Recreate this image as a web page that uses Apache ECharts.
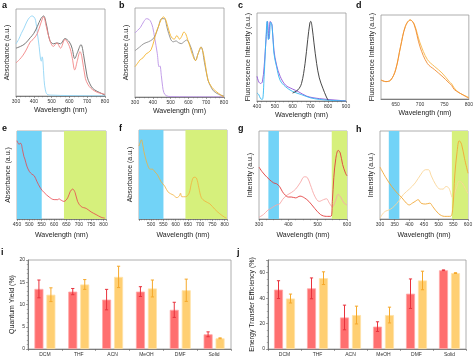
<!DOCTYPE html>
<html><head><meta charset="utf-8">
<script src="https://cdn.jsdelivr.net/npm/echarts/dist/echarts.min.js"></script>
<style>html,body{margin:0;padding:0;background:#fff}#c{width:476px;height:362px}</style>
</head><body><div id="c"></div>
<script>
// ---------- data ----------
const aBlue = [[300,0.60],[315,0.65],[330,0.72],[345,0.78],[360,0.85],[375,0.90],[390,0.92],[400,0.91],[410,0.87],[420,0.72],[430,0.57],[438,0.42],[443,0.40],[447,0.45],[451,0.41],[458,0.18],[465,0.07],[475,0.02],[500,0.01],[600,0.005],[700,0.003],[800,0.002]];
const aGray = [[300,0.55],[325,0.57],[350,0.60],[380,0.67],[400,0.72],[420,0.80],[440,0.89],[455,0.92],[470,0.83],[490,0.64],[510,0.60],[530,0.61],[550,0.60],[575,0.66],[600,0.62],[615,0.55],[630,0.43],[645,0.50],[665,0.59],[680,0.47],[700,0.22],[715,0.14],[730,0.09],[750,0.06],[770,0.04],[800,0.01]];
const aRed = [[300,0.38],[320,0.42],[340,0.47],[360,0.54],[380,0.62],[400,0.66],[420,0.72],[440,0.84],[455,0.91],[470,0.80],[490,0.64],[510,0.57],[530,0.61],[550,0.55],[575,0.65],[600,0.57],[615,0.45],[630,0.30],[645,0.41],[660,0.51],[670,0.45],[690,0.20],[705,0.13],[720,0.09],[740,0.06],[760,0.04],[800,0.02]];

const bPurple = [[300,0.72],[315,0.75],[330,0.78],[350,0.85],[365,0.88],[380,0.87],[390,0.84],[400,0.78],[410,0.67],[425,0.49],[435,0.34],[440,0.35],[448,0.24],[455,0.12],[462,0.05],[475,0.015],[500,0.005],[600,0.003],[800,0.002]];
const bGray = [[300,0.52],[325,0.56],[350,0.60],[375,0.62],[400,0.65],[415,0.70],[430,0.78],[450,0.88],[465,0.88],[480,0.78],[500,0.65],[515,0.62],[530,0.63],[545,0.61],[560,0.60],[575,0.62],[590,0.64],[610,0.58],[625,0.49],[640,0.41],[655,0.49],[672,0.56],[690,0.39],[710,0.19],[725,0.12],[740,0.07],[770,0.03],[800,0.01]];
const bOrange = [[300,0.34],[315,0.38],[330,0.42],[345,0.44],[360,0.48],[375,0.50],[390,0.53],[405,0.62],[420,0.73],[435,0.81],[445,0.86],[460,0.90],[470,0.88],[480,0.82],[490,0.75],[500,0.69],[510,0.66],[520,0.65],[535,0.69],[550,0.65],[562,0.68],[575,0.73],[585,0.71],[595,0.65],[610,0.56],[620,0.49],[640,0.41],[655,0.49],[670,0.56],[680,0.52],[690,0.43],[700,0.30],[710,0.19],[725,0.13],[740,0.09],[770,0.04],[800,0.00]];

const cBlue = [[400,0.10],[410,0.08],[420,0.03],[430,0.02],[440,0.31],[450,0.77],[457,1.0],[464,0.77],[470,0.82],[477,0.99],[485,0.94],[495,0.60],[510,0.43],[530,0.26],[560,0.18],[600,0.12],[650,0.08],[700,0.04],[750,0.02],[800,0.01],[900,0.0]];
const cPurple = [[400,0.31],[410,0.24],[420,0.22],[430,0.24],[440,0.43],[452,0.81],[459,1.0],[467,0.78],[474,1.0],[484,0.96],[495,0.64],[510,0.45],[530,0.31],[560,0.20],[600,0.15],[630,0.12],[680,0.06],[750,0.03],[850,0.01],[900,0.0]];
const cDark = [[600,0.10],[630,0.14],[650,0.22],[670,0.47],[685,0.77],[697,0.98],[702,1.0],[710,0.92],[720,0.73],[735,0.47],[750,0.29],[770,0.16],[790,0.05],[800,0.01]];

const dDark = [[620,0.24],[630,0.22],[640,0.24],[650,0.37],[660,0.66],[670,0.92],[680,1.0],[688,0.94],[700,0.66],[715,0.45],[730,0.37],[745,0.29],[760,0.20],[765,0.17],[770,0.12],[780,0.08],[800,0.01]];
const dLight = [[620,0.24],[630,0.22],[640,0.24],[650,0.37],[660,0.66],[670,0.92],[680,1.0],[688,0.95],[700,0.71],[715,0.50],[730,0.41],[745,0.33],[760,0.22],[765,0.19],[770,0.14],[780,0.08],[800,0.02]];

const eRed = [[450,0.89],[458,0.85],[465,0.86],[472,0.79],[478,0.71],[482,0.68],[490,0.60],[500,0.54],[510,0.51],[520,0.49],[530,0.43],[545,0.35],[560,0.30],[580,0.25],[600,0.22],[615,0.22],[620,0.23],[625,0.22],[640,0.20],[655,0.24],[665,0.31],[675,0.34],[685,0.30],[695,0.20],[710,0.14],[730,0.12],[750,0.08],[770,0.05],[790,0.02],[805,0.01]];
const fOrange = [[450,0.82],[455,0.86],[460,0.89],[465,0.84],[470,0.76],[478,0.67],[485,0.61],[495,0.56],[505,0.56],[515,0.53],[525,0.50],[540,0.42],[555,0.37],[570,0.30],[590,0.27],[605,0.24],[615,0.26],[620,0.29],[625,0.25],[640,0.25],[655,0.29],[665,0.41],[675,0.47],[685,0.46],[695,0.35],[705,0.24],[720,0.20],[740,0.17],[760,0.11],[780,0.06],[800,0.02],[808,0.01]];

const gRed = [[300,0.59],[310,0.54],[320,0.50],[335,0.45],[350,0.41],[360,0.40],[370,0.37],[380,0.31],[390,0.27],[400,0.25],[410,0.25],[425,0.24],[440,0.26],[455,0.24],[470,0.20],[490,0.12],[510,0.05],[530,0.03],[545,0.03],[550,0.20],[555,0.47],[562,0.69],[570,0.78],[577,0.75],[585,0.62],[595,0.52],[600,0.49]];
const gPink = [[300,0.02],[315,0.05],[330,0.10],[345,0.13],[360,0.16],[370,0.17],[380,0.22],[395,0.27],[410,0.30],[425,0.34],[440,0.41],[455,0.48],[465,0.47],[475,0.39],[490,0.26],[505,0.20],[520,0.22],[530,0.23],[540,0.18],[550,0.14],[560,0.20],[570,0.28],[580,0.24],[590,0.18],[600,0.16]];

const hOrange = [[300,0.59],[320,0.47],[340,0.37],[360,0.29],[375,0.24],[390,0.18],[400,0.16],[410,0.18],[420,0.20],[430,0.22],[440,0.18],[455,0.17],[470,0.18],[480,0.14],[500,0.06],[520,0.03],[540,0.03],[548,0.12],[555,0.50],[563,0.77],[570,0.89],[578,0.85],[588,0.69],[600,0.52]];
const hLight = [[300,0.01],[315,0.08],[335,0.11],[350,0.15],[365,0.21],[380,0.28],[400,0.34],[420,0.41],[440,0.51],[455,0.56],[465,0.56],[475,0.49],[490,0.39],[505,0.34],[515,0.34],[525,0.37],[535,0.35],[548,0.24],[560,0.35],[570,0.43],[580,0.41],[590,0.35],[600,0.29]];

const solvents = ['DCM','THF','ACN','MeOH','DMF','Solid'];
const qyRed = [13.5,12.9,11.1,12.9,8.8,3.3];
const qyRedErr = [2.0,0.7,2.3,1.1,1.7,0.55];
const qyOrange = [12.2,14.5,16.2,13.6,13.2,2.4];
const qyOrangeErr = [1.55,1.1,2.4,1.9,2.5,0.1];
const etRed = [46.7,47.7,24.8,17.6,43.5,61.9];
const etRedErr = [7.0,8.2,9.7,3.8,11.6,0.3];
const etOrange = [39.7,55.7,26.7,26.7,53.9,59.7];
const etOrangeErr = [3.5,5.0,7.0,6.2,7.3,0.3];

// ---------- layout ----------
const FONT = 'Liberation Sans, Arial, sans-serif';
const grids = [
  {left:16, top:9, width:89, height:87},   // a
  {left:135, top:8, width:89, height:89},  // b
  {left:257, top:13, width:89, height:88}, // c
  {left:381, top:15, width:88, height:84}, // d
  {left:17, top:131, width:89, height:88}, // e
  {left:139, top:130, width:88, height:89},// f
  {left:259, top:131, width:88, height:88},// g
  {left:380, top:131, width:88, height:88},// h
  {left:28, top:260, width:203, height:89},// i
  {left:268, top:260, width:198, height:89}// j
].map(g => Object.assign({show:true, borderColor:'#9a9a9a', borderWidth:0.8, backgroundColor:'transparent'}, g));

function wlAxis(gi, min, max, interval, extra) {
  return Object.assign({
    type:'value', gridIndex:gi, min, max, interval,
    name:'Wavelength (nm)', nameLocation:'middle', nameGap:11,
    nameTextStyle:{fontSize:7, color:'#222', fontFamily:FONT},
    axisLine:{show:true, lineStyle:{color:'#666', width:0.8}},
    axisTick:{show:true, length:2, lineStyle:{color:'#666', width:0.6}},
    minorTick:{show:true, splitNumber:4, length:1.3, lineStyle:{color:'#666', width:0.5}},
    axisLabel:{fontSize:5, color:'#333', margin:3, fontFamily:FONT},
    splitLine:{show:false}, minorSplitLine:{show:false}
  }, extra || {});
}
function intAxis(gi, name, max) {
  return {
    type:'value', gridIndex:gi, min:0, max: max || 1,
    name, nameLocation:'middle', nameGap:5,
    nameTextStyle:{fontSize:7, color:'#222', fontFamily:FONT},
    axisLine:{show:false}, axisTick:{show:false}, axisLabel:{show:false},
    splitLine:{show:false}
  };
}
function catAxis(gi) {
  return {
    type:'category', gridIndex:gi, data:solvents,
    axisLine:{show:true, lineStyle:{color:'#666', width:0.8}},
    axisTick:{show:true, length:2, lineStyle:{color:'#666', width:0.6}},
    axisLabel:{fontSize:5, color:'#333', margin:3, fontFamily:FONT}
  };
}
function barYAxis(gi, name, max, interval, minorSplit) {
  return {
    type:'value', gridIndex:gi, min:0, max, interval,
    name, nameLocation:'middle', nameGap:12,
    nameTextStyle:{fontSize:7, color:'#222', fontFamily:FONT},
    axisLine:{show:true, lineStyle:{color:'#666', width:0.8}},
    axisTick:{show:true, length:2, lineStyle:{color:'#666', width:0.6}},
    minorTick:{show:true, splitNumber:minorSplit, length:1.2, lineStyle:{color:'#666', width:0.5}},
    axisLabel:{fontSize:5, color:'#333', margin:3, fontFamily:FONT,
      formatter: v => (v % interval === 0 ? String(v) : '')},
    splitLine:{show:false}
  };
}

const hide50 = v => (v % 50 === 0 ? String(v) : '');

const xAxes = [
  wlAxis(0, 300, 800, 100),
  wlAxis(1, 300, 800, 100),
  wlAxis(2, 400, 900, 100),
  wlAxis(3, 620, 800, 10, {axisTick:{show:false}, minorTick:{show:false},
      axisLabel:{fontSize:5, color:'#333', margin:3, fontFamily:FONT, interval:0, formatter:hide50}}),
  wlAxis(4, 450, 810, 50, {minorTick:{show:true, splitNumber:5, length:1.3, lineStyle:{color:'#666', width:0.5}},
      axisLabel:{fontSize:5, color:'#333', margin:3, fontFamily:FONT, formatter:hide50}, nameGap:13}),
  wlAxis(5, 450, 810, 50, {minorTick:{show:true, splitNumber:5, length:1.3, lineStyle:{color:'#666', width:0.5}},
      axisLabel:{fontSize:5, color:'#333', margin:3, fontFamily:FONT, formatter: v => (v % 50 === 0 && v > 450 ? String(v) : '')}, nameGap:13}),
  wlAxis(6, 300, 600, 100, {nameGap:13}),
  wlAxis(7, 300, 600, 50, {nameGap:13, minorTick:{show:false}}),
  catAxis(8),
  catAxis(9)
];
const yAxes = [
  intAxis(0, 'Absorbance (a.u.)'),
  intAxis(1, 'Absorbance (a.u.)'),
  intAxis(2, 'Fluorescence Intensity (a.u.)', 1.105),
  intAxis(3, 'Fluorescence Intensity (a.u.)', 1.063),
  intAxis(4, 'Absorbance (a.u.)'),
  intAxis(5, 'Absorbance (a.u.)'),
  intAxis(6, 'Intensity (a.u.)'),
  intAxis(7, 'Intensity (a.u.)'),
  barYAxis(8, 'Quantum Yield (%)', 20, 5, 5),
  barYAxis(9, 'Energy Transfer Efficiency (%)', 70, 20, 4)
];

function line(idx, data, color, width, extra) {
  return Object.assign({
    type:'line', xAxisIndex:idx, yAxisIndex:idx, data, smooth:0.35,
    showSymbol:false, symbol:'none', silent:true, animation:false,
    lineStyle:{color, width: width || 0.9}, z:3
  }, extra || {});
}
const BLUE_BG = '#72d3f7', GREEN_BG = '#d6f07c';
function areas(b0, b1, g0, g1) {
  return {silent:true, z:1, itemStyle:{opacity:1},
    data:[[{xAxis:b0, itemStyle:{color:BLUE_BG}},{xAxis:b1}],[{xAxis:g0, itemStyle:{color:GREEN_BG}},{xAxis:g1}]]};
}

function errRender(offset, color) {
  return function(params, api) {
    const x = api.value(0), v = api.value(1), e = api.value(2);
    const hi = api.coord([x, v + e]), lo = api.coord([x, v - e]);
    const cx = hi[0] + offset, cap = 1.6;
    const style = {stroke:color, lineWidth:1};
    return {type:'group', children:[
      {type:'line', shape:{x1:cx, y1:hi[1], x2:cx, y2:lo[1]}, style},
      {type:'line', shape:{x1:cx-cap, y1:hi[1], x2:cx+cap, y2:hi[1]}, style},
      {type:'line', shape:{x1:cx-cap, y1:lo[1], x2:cx+cap, y2:lo[1]}, style}
    ]};
  };
}
function bars(idx, redVals, redErr, orVals, orErr) {
  return [
    {type:'bar', xAxisIndex:idx, yAxisIndex:idx, data:redVals, barWidth:9, barGap:'33%',
      itemStyle:{color:'#ff6f6f', borderColor:'#ffa8a8', borderWidth:0.8}, animation:false, silent:true},
    {type:'bar', xAxisIndex:idx, yAxisIndex:idx, data:orVals, barWidth:9, barGap:'33%',
      itemStyle:{color:'#ffcf72', borderColor:'#ffe2a8', borderWidth:0.8}, animation:false, silent:true},
    {type:'custom', xAxisIndex:idx, yAxisIndex:idx, renderItem:errRender(-6, '#e8323c'),
      data:redVals.map((v,i)=>[i, v, redErr[i]]), encode:{x:0, y:1}, z:5, animation:false, silent:true},
    {type:'custom', xAxisIndex:idx, yAxisIndex:idx, renderItem:errRender(6, '#f5a82a'),
      data:orVals.map((v,i)=>[i, v, orErr[i]]), encode:{x:0, y:1}, z:5, animation:false, silent:true}
  ];
}

const series = [
  line(0, aBlue, '#92d5f5'), line(0, aGray, '#6a6a6a'), line(0, aRed, '#f38585'),
  line(1, bPurple, '#bb93e6'), line(1, bGray, '#8c8c8c'), line(1, bOrange, '#f5b42c'),
  line(2, cPurple, '#8e52d8'), line(2, cBlue, '#33b8f2'), line(2, cDark, '#333333'),
  line(3, dLight, '#f7b545'), line(3, dDark, '#f08a30'),
  line(4, eRed, '#e8454d', 0.8, {markArea: areas(450, 550, 640, 810)}),
  line(5, fOrange, '#f2b13c', 0.8, {markArea: areas(450, 550, 640, 810)}),
  line(6, gPink, '#f7a8a8', 0.9, {markArea: areas(332, 368, 548, 600)}),
  line(6, gRed, '#e23d3d', 0.9),
  line(7, hLight, '#fbd699', 0.9, {markArea: areas(330, 366, 545, 600)}),
  line(7, hOrange, '#f2a836', 0.9),
  ...bars(8, qyRed, qyRedErr, qyOrange, qyOrangeErr),
  ...bars(9, etRed, etRedErr, etOrange, etOrangeErr)
];

const letters = [['a',2,1],['b',119,1],['c',238,1],['d',356,1],['e',2,124],['f',119,124],['g',238,124],['h',356,125],['i',1,248],['j',237,248]];
const graphic = letters.map(([t,x,y]) => ({type:'text', left:x, top:y, silent:true,
  style:{text:t, font:'bold 9px ' + FONT, fill:'#111'}}));

const chart = echarts.init(document.getElementById('c'), null, {renderer:'canvas'});
chart.setOption({
  animation:false, backgroundColor:'#fff',
  grid: grids, xAxis: xAxes, yAxis: yAxes, series, graphic
});
</script></body></html>
